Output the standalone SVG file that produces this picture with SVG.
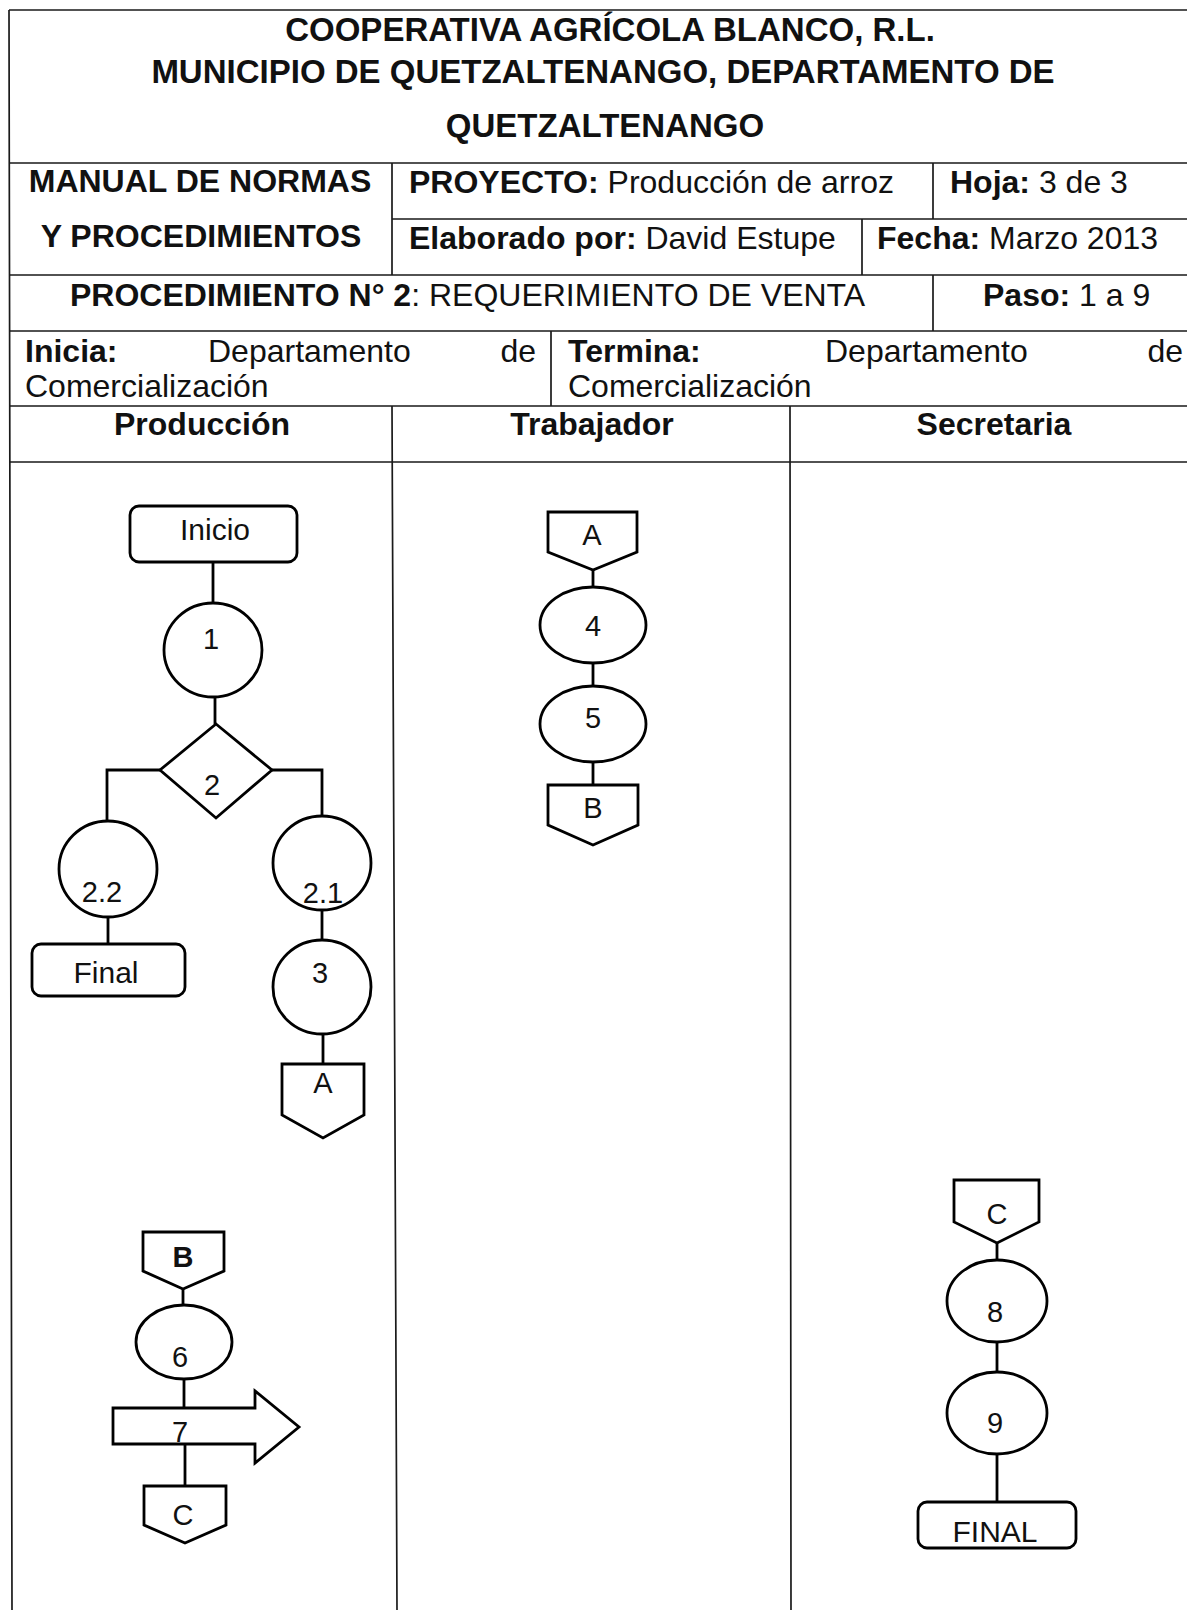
<svg xmlns="http://www.w3.org/2000/svg" width="1187" height="1610" viewBox="0 0 1187 1610">
<style>
.bg{fill:#fff}
.grid{stroke:#1a1a1a;stroke-width:1.7;fill:none}
.sh{fill:#fff;stroke:#000;stroke-width:2.8}
.cn{stroke:#000;stroke-width:2.8;fill:none}
text{font-family:"Liberation Sans",Arial,sans-serif;fill:#111}
.h{font-size:32px}
.t{font-size:33px}
.b{font-weight:bold}
.f{font-size:29px;text-anchor:middle}
.w{font-size:30px;text-anchor:middle}
.m{text-anchor:middle}
</style>
<rect class="bg" x="0" y="0" width="1187" height="1610"/>
<g id="table">
<path class="grid" d="M9 10H1187M9 163H1187M392 219H1187M9 275H1187M9 331H1187M9 406H1187M9 462H1187"/>
<path class="grid" d="M9 10L12 1610M392 163V275M933 163V219M862 219V275M933 275V331M551 331V406M392 406L397 1610M790 406L791 1610"/>
</g>
<g id="header-text">
<text class="t b m" x="610" y="41">COOPERATIVA AGRÍCOLA BLANCO, R.L.</text>
<text class="t b m" x="603" y="83">MUNICIPIO DE QUETZALTENANGO, DEPARTAMENTO DE</text>
<text class="t b m" x="605" y="137">QUETZALTENANGO</text>
<text class="h b m" x="200" y="192">MANUAL DE NORMAS</text>
<text class="h b m" x="201" y="247">Y PROCEDIMIENTOS</text>
<text class="h" x="409" y="193"><tspan class="b">PROYECTO:</tspan> Producción de arroz</text>
<text class="h" x="950" y="193"><tspan class="b">Hoja:</tspan> 3 de 3</text>
<text class="h" x="409" y="249"><tspan class="b">Elaborado por:</tspan> David Estupe</text>
<text class="h" x="877" y="249"><tspan class="b">Fecha:</tspan> Marzo 2013</text>
<text class="h" x="70" y="306"><tspan class="b">PROCEDIMIENTO N° 2</tspan>: REQUERIMIENTO DE VENTA</text>
<text class="h" x="983" y="306"><tspan class="b">Paso:</tspan> 1 a 9</text>
<text class="h b" x="25" y="362">Inicia:</text>
<text class="h" x="208" y="362">Departamento</text>
<text class="h" x="536" y="362" text-anchor="end">de</text>
<text class="h" x="25" y="397">Comercialización</text>
<text class="h b" x="568" y="362">Termina:</text>
<text class="h" x="825" y="362">Departamento</text>
<text class="h" x="1183" y="362" text-anchor="end">de</text>
<text class="h" x="568" y="397">Comercialización</text>
<text class="h b m" x="202" y="435">Producción</text>
<text class="h b m" x="592" y="435">Trabajador</text>
<text class="h b m" x="994" y="435">Secretaria</text>
</g>
<g id="connectors">
<path class="cn" d="M213 562V603M215 697V724M160 770H107V822M272 770H322V817M108 917V944M322 910V940M323 1034V1064M593 570V587M593 663V686M593 762V785M183 1289V1305M184 1379V1408M185 1444V1486M997 1243V1260M997 1343V1372M997 1454V1502"/>
</g>
<g id="n-inicio"><rect class="sh" x="130" y="506" width="167" height="56" rx="9"/><text class="w" x="215" y="540">Inicio</text></g>
<g id="n-1"><ellipse class="sh" cx="213" cy="650" rx="49" ry="47"/><text class="f" x="211" y="649">1</text></g>
<g id="n-2"><polygon class="sh" points="216,724 272,770 216,818 160,770"/><text class="f" x="212" y="795">2</text></g>
<g id="n-2-2"><ellipse class="sh" cx="108" cy="869" rx="49" ry="48"/><text class="f" x="102" y="902">2.2</text></g>
<g id="n-2-1"><ellipse class="sh" cx="322" cy="863" rx="49" ry="47"/><text class="f" x="323" y="903">2.1</text></g>
<g id="n-final1"><rect class="sh" x="32" y="944" width="153" height="52" rx="9"/><text class="w" x="106" y="983">Final</text></g>
<g id="n-3"><ellipse class="sh" cx="322" cy="987" rx="49" ry="47"/><text class="f" x="320" y="983">3</text></g>
<g id="n-a1"><polygon class="sh" points="282,1064 364,1064 364,1115 323,1138 282,1115"/><text class="f" x="323" y="1093">A</text></g>
<g id="n-a2"><polygon class="sh" points="548,512 637,512 637,552 593,570 548,552"/><text class="f" x="592" y="545">A</text></g>
<g id="n-4"><ellipse class="sh" cx="593" cy="625" rx="53" ry="38"/><text class="f" x="593" y="636">4</text></g>
<g id="n-5"><ellipse class="sh" cx="593" cy="724" rx="53" ry="38"/><text class="f" x="593" y="728">5</text></g>
<g id="n-b1"><polygon class="sh" points="548,785 638,785 638,825 593,845 548,825"/><text class="f" x="593" y="818">B</text></g>
<g id="n-b2"><polygon class="sh" points="143,1232 224,1232 224,1271 183,1289 143,1271"/><text class="f b" x="183" y="1267">B</text></g>
<g id="n-6"><ellipse class="sh" cx="184" cy="1342" rx="48" ry="37"/><text class="f" x="180" y="1367">6</text></g>
<g id="n-7"><polygon class="sh" points="113,1408 255,1408 255,1391 299,1427 255,1463 255,1444 113,1444"/><text class="f" x="180" y="1442">7</text></g>
<g id="n-c1"><polygon class="sh" points="144,1486 226,1486 226,1525 185,1543 144,1525"/><text class="f" x="183" y="1525">C</text></g>
<g id="n-c2"><polygon class="sh" points="954,1180 1039,1180 1039,1222 997,1243 954,1222"/><text class="f" x="997" y="1224">C</text></g>
<g id="n-8"><ellipse class="sh" cx="997" cy="1301" rx="50" ry="41"/><text class="f" x="995" y="1322">8</text></g>
<g id="n-9"><ellipse class="sh" cx="997" cy="1413" rx="50" ry="41"/><text class="f" x="995" y="1433">9</text></g>
<g id="n-final2"><rect class="sh" x="918" y="1502" width="158" height="46" rx="9"/><text class="w" x="995" y="1542">FINAL</text></g>
</svg>
